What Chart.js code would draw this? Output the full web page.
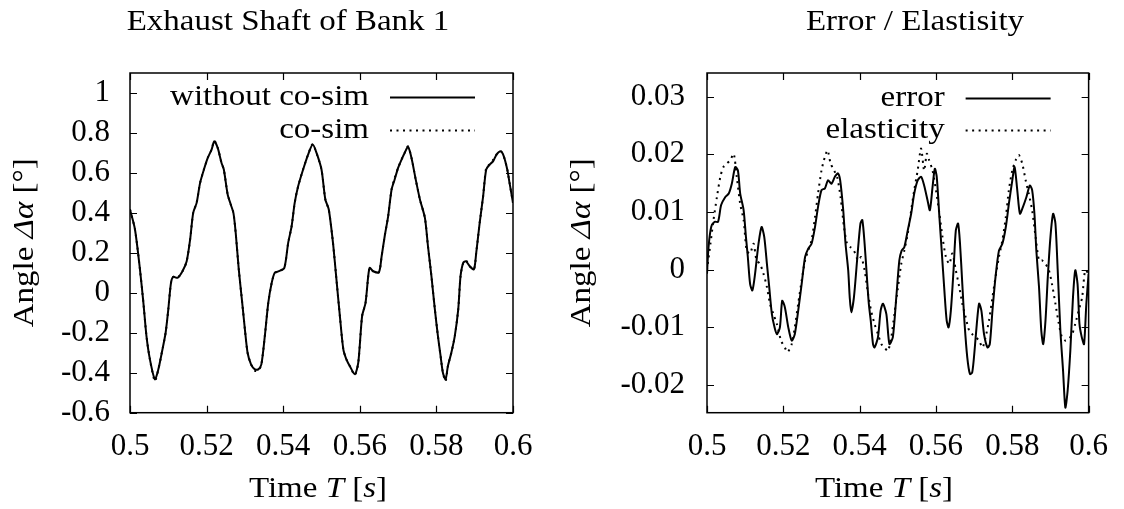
<!DOCTYPE html>
<html>
<head>
<meta charset="utf-8">
<script src="https://cdn.jsdelivr.net/npm/chart.js@4.4.0/dist/chart.umd.min.js"></script>
<style>
  html, body { margin: 0; padding: 0; background: #fff; }
  #wrap { position: relative; width: 1124px; height: 509px; overflow: hidden; }
  .cv { position: absolute; top: 0; width: 562px; height: 509px; }
</style>
</head>
<body>
<div id="wrap">
  <div class="cv" style="left:0"><canvas id="left"></canvas></div>
  <div class="cv" style="left:562px"><canvas id="right"></canvas></div>
</div>
<script>
// ---------- tick labels ----------
const xTickValues = [0.5, 0.52, 0.54, 0.56, 0.58, 0.6];
const xTickLabels = ['0.5', '0.52', '0.54', '0.56', '0.58', '0.6'];
const leftYTickValues = [-0.6, -0.4, -0.2, 0, 0.2, 0.4, 0.6, 0.8, 1];
const leftYTickLabels = ['-0.6', '-0.4', '-0.2', '0', '0.2', '0.4', '0.6', '0.8', '1'];
const rightYTickValues = [-0.02, -0.01, 0, 0.01, 0.02, 0.03];
const rightYTickLabels = ['-0.02', '-0.01', '0', '0.01', '0.02', '0.03'];

// ---------- left chart: Exhaust Shaft of Bank 1 ----------
const timeWithout = [0.5,0.5013,0.5026,0.5035,0.5043,0.5052,0.5065,0.5074,0.5083,0.5093,0.51,0.5107,0.5113,0.5124,0.5137,0.5148,0.5157,0.5165,0.5174,0.5183,0.5193,0.5203,0.5213,0.522,0.5229,0.5239,0.5245,0.5255,0.5263,0.527,0.5276,0.5284,0.5293,0.53,0.5307,0.5316,0.5326,0.5335,0.5343,0.5352,0.5361,0.537,0.5378,0.5389,0.5403,0.5413,0.5422,0.543,0.5439,0.5452,0.5465,0.5477,0.5487,0.55,0.551,0.5519,0.553,0.5539,0.5548,0.5557,0.5565,0.5574,0.5587,0.5596,0.5606,0.5615,0.5622,0.5626,0.5635,0.565,0.5657,0.5665,0.5674,0.5683,0.5691,0.57,0.5709,0.5717,0.5726,0.5735,0.5746,0.5757,0.577,0.5778,0.5787,0.5796,0.5804,0.5811,0.5817,0.5824,0.583,0.5839,0.5848,0.5857,0.5863,0.587,0.5877,0.5887,0.5898,0.5904,0.5913,0.5922,0.593,0.5939,0.5948,0.5957,0.5968,0.5976,0.5985,0.5991,0.6];
const angleWithout = [0.417,0.317,0.117,-0.05,-0.217,-0.333,-0.433,-0.383,-0.3,-0.2,-0.083,0.05,0.08,0.075,0.108,0.158,0.267,0.4,0.45,0.55,0.617,0.675,0.717,0.758,0.725,0.65,0.617,0.492,0.442,0.4,0.3,0.117,-0.05,-0.183,-0.3,-0.358,-0.383,-0.383,-0.358,-0.217,-0.05,0.05,0.1,0.108,0.125,0.25,0.333,0.45,0.533,0.617,0.692,0.742,0.7,0.617,0.467,0.417,0.25,0.067,-0.117,-0.283,-0.333,-0.367,-0.408,-0.35,-0.117,-0.05,0.083,0.125,0.108,0.103,0.183,0.283,0.383,0.517,0.567,0.625,0.667,0.7,0.73,0.675,0.567,0.467,0.375,0.233,0.083,-0.083,-0.217,-0.317,-0.4,-0.433,-0.367,-0.3,-0.217,-0.083,0.083,0.15,0.158,0.133,0.117,0.2,0.35,0.483,0.617,0.642,0.658,0.692,0.708,0.683,0.617,0.55,0.45];
const timeCosim = [0.5,0.5013,0.5026,0.5035,0.5043,0.5052,0.5065,0.5074,0.5083,0.5093,0.51,0.5107,0.5113,0.5124,0.5137,0.5148,0.5157,0.5165,0.5174,0.5183,0.5193,0.5203,0.5213,0.522,0.5229,0.5239,0.5245,0.5255,0.5263,0.527,0.5276,0.5284,0.5293,0.53,0.5307,0.5316,0.5326,0.5335,0.5343,0.5352,0.5361,0.537,0.5378,0.5389,0.5403,0.5413,0.5422,0.543,0.5439,0.5452,0.5465,0.5477,0.5487,0.55,0.551,0.5519,0.553,0.5539,0.5548,0.5557,0.5565,0.5574,0.5587,0.5596,0.5606,0.5615,0.5622,0.5626,0.5635,0.565,0.5657,0.5665,0.5674,0.5683,0.5691,0.57,0.5709,0.5717,0.5726,0.5735,0.5746,0.5757,0.577,0.5778,0.5787,0.5796,0.5804,0.5811,0.5817,0.5824,0.583,0.5839,0.5848,0.5857,0.5863,0.587,0.5877,0.5887,0.5898,0.5904,0.5913,0.5922,0.593,0.5939,0.5948,0.5957,0.5968,0.5976,0.5985,0.5991,0.6];
const angleCosim = [0.417,0.317,0.117,-0.05,-0.217,-0.333,-0.442,-0.383,-0.3,-0.2,-0.083,0.05,0.08,0.075,0.108,0.158,0.267,0.4,0.45,0.55,0.617,0.675,0.717,0.762,0.725,0.65,0.617,0.492,0.442,0.4,0.3,0.117,-0.05,-0.183,-0.3,-0.358,-0.39,-0.39,-0.358,-0.217,-0.05,0.05,0.1,0.108,0.125,0.25,0.333,0.45,0.533,0.617,0.692,0.745,0.7,0.617,0.467,0.417,0.25,0.067,-0.117,-0.283,-0.333,-0.367,-0.412,-0.35,-0.117,-0.05,0.083,0.125,0.108,0.103,0.183,0.283,0.383,0.517,0.575,0.625,0.667,0.7,0.733,0.675,0.567,0.467,0.375,0.233,0.083,-0.083,-0.217,-0.317,-0.4,-0.442,-0.367,-0.3,-0.217,-0.083,0.083,0.15,0.162,0.133,0.117,0.2,0.35,0.483,0.625,0.642,0.665,0.692,0.708,0.683,0.617,0.55,0.45];

// ---------- right chart: Error / Elastisity ----------
const timeError = [0.5,0.5004,0.5011,0.502,0.5029,0.5037,0.5048,0.5057,0.5065,0.5074,0.5081,0.5087,0.5096,0.5102,0.5107,0.5113,0.5119,0.5126,0.5135,0.5143,0.515,0.5157,0.5163,0.517,0.5177,0.5183,0.5191,0.5197,0.5204,0.5213,0.5222,0.523,0.5239,0.5248,0.5257,0.5265,0.5274,0.5283,0.5291,0.53,0.5309,0.5317,0.5326,0.5335,0.5343,0.5349,0.5357,0.5363,0.537,0.5374,0.5378,0.5385,0.5394,0.5402,0.5407,0.5413,0.5419,0.5424,0.5429,0.5435,0.5439,0.5448,0.5455,0.5461,0.547,0.5478,0.5487,0.5496,0.5504,0.551,0.5517,0.5526,0.5535,0.5543,0.5552,0.5561,0.5569,0.5578,0.5584,0.5591,0.5597,0.5602,0.5609,0.5615,0.5622,0.5628,0.5633,0.5639,0.5646,0.5652,0.5658,0.5663,0.5669,0.5675,0.5682,0.5689,0.5695,0.5701,0.5707,0.5713,0.5719,0.5726,0.5735,0.5741,0.5748,0.5756,0.5765,0.5774,0.5783,0.5791,0.58,0.5806,0.5813,0.582,0.5828,0.5837,0.5846,0.5852,0.5858,0.5863,0.587,0.5876,0.5881,0.5887,0.5893,0.59,0.5907,0.5913,0.5919,0.5926,0.5933,0.5939,0.5945,0.5952,0.5959,0.5965,0.5971,0.5976,0.5982,0.5988,0.5994,0.6];
const valError = [-0.0007,0.0039,0.0074,0.0083,0.0083,0.0112,0.0126,0.0132,0.0149,0.0178,0.0172,0.0132,0.0103,0.0057,0.0022,-0.0025,-0.0036,-0.0007,0.0045,0.0074,0.0057,0.001,-0.003,-0.0077,-0.01,-0.0112,-0.01,-0.0054,-0.0065,-0.01,-0.0123,-0.0112,-0.0071,-0.0025,0.0022,0.0036,0.0045,0.0074,0.0109,0.0138,0.0141,0.0155,0.0149,0.0161,0.0167,0.0155,0.0103,0.0045,-0.0001,-0.0048,-0.0074,-0.0048,0.0022,0.008,0.0086,0.0045,-0.0013,-0.0059,-0.0088,-0.0129,-0.0135,-0.0117,-0.0071,-0.0059,-0.0077,-0.0129,-0.0117,-0.0048,0.0016,0.0033,0.0039,0.0068,0.0097,0.0132,0.0155,0.0161,0.0146,0.012,0.0103,0.0143,0.0175,0.0161,0.0091,0.0033,-0.0036,-0.0088,-0.01,-0.0071,-0.0001,0.0068,0.008,0.0045,-0.0025,-0.0094,-0.0152,-0.0181,-0.0178,-0.0141,-0.0094,-0.0059,-0.0071,-0.0112,-0.0135,-0.0129,-0.0071,-0.0013,0.0033,0.0045,0.0074,0.0114,0.0155,0.0178,0.0138,0.0097,0.0109,0.0126,0.0146,0.0138,0.0097,0.0033,-0.003,-0.0106,-0.0129,-0.0088,-0.0013,0.0057,0.0097,0.008,-0.0001,-0.0106,-0.0175,-0.0239,-0.021,-0.0141,-0.0048,-0.0001,-0.0025,-0.0094,-0.0117,-0.0129,-0.0059,-0.0007];
const timeElast = [0.5,0.5009,0.5017,0.5026,0.5035,0.5043,0.5052,0.5061,0.507,0.5078,0.5087,0.5096,0.5104,0.5113,0.5122,0.513,0.5139,0.5148,0.5157,0.5165,0.5174,0.5183,0.5194,0.5204,0.5211,0.5222,0.523,0.5239,0.5248,0.5257,0.5265,0.5274,0.5283,0.5291,0.53,0.5309,0.5316,0.5324,0.5333,0.5341,0.535,0.5359,0.5367,0.5376,0.5385,0.5396,0.5404,0.5413,0.5422,0.543,0.5439,0.5448,0.5457,0.5465,0.5474,0.5483,0.5491,0.55,0.5509,0.5517,0.5526,0.5535,0.5543,0.5552,0.5561,0.5569,0.5576,0.5582,0.5591,0.56,0.5609,0.5617,0.5626,0.5635,0.5643,0.5652,0.5661,0.5669,0.5678,0.5687,0.5695,0.5704,0.5713,0.5722,0.573,0.5739,0.5748,0.5756,0.5765,0.5774,0.5783,0.5791,0.58,0.5809,0.5817,0.5826,0.5835,0.5843,0.5852,0.5861,0.587,0.5878,0.5887,0.5896,0.5904,0.5913,0.5922,0.593,0.5939,0.5948,0.5957,0.5965,0.5974,0.5983,0.5991,0.6];
const valElast = [-0.0001,0.0045,0.0086,0.0126,0.0161,0.0178,0.0184,0.019,0.0201,0.0161,0.0114,0.0086,0.0033,0.0028,0.0045,0.0016,0.001,-0.0007,-0.003,-0.0059,-0.0077,-0.0094,-0.0123,-0.0135,-0.0143,-0.0129,-0.01,-0.0059,-0.0019,0.0016,0.0033,0.0051,0.0091,0.0132,0.0172,0.0196,0.0207,0.0184,0.0172,0.0161,0.0126,0.0074,0.0045,0.0039,0.0033,0.0016,0.0022,-0.0001,-0.0042,-0.0071,-0.0094,-0.0112,-0.0129,-0.0135,-0.0141,-0.0117,-0.0077,-0.0033,0.001,0.0033,0.0062,0.0103,0.0138,0.0172,0.021,0.0172,0.0201,0.019,0.0172,0.0138,0.0097,0.0057,0.0022,0.001,0.0028,-0.0001,-0.003,-0.0059,-0.0083,-0.0106,-0.0112,-0.0117,-0.0123,-0.0135,-0.0117,-0.0088,-0.0048,-0.0013,0.0022,0.0051,0.0091,0.0138,0.0172,0.019,0.0199,0.0184,0.0155,0.0132,0.0103,0.0057,0.0016,0.0016,0.001,-0.0001,-0.0025,-0.0059,-0.0094,-0.0117,-0.0123,-0.012,-0.0112,-0.0094,-0.0071,-0.0048,-0.0001,-0.0007];

const FONT = "'Liberation Serif', 'Times New Roman', serif";
const FS = 30;     // text size for titles, labels, legend
const TFS = 31;    // tick label size
const STRETCH = 1.1; // Computer Modern is wider than Times
const DOTS = [2, 4.5];

function pts(xs, ys) { return xs.map((x, i) => ({ x: x, y: ys[i] })); }

// Rich text: parts [{t, i}] drawn left to right, alignment by total width
function drawRich(ctx, parts, x, y, align) {
  let total = 0;
  parts.forEach(p => { ctx.font = (p.i ? 'italic ' : '') + FS + 'px ' + FONT; total += ctx.measureText(p.t).width; });
  const w = total * STRETCH;
  let start = align === 'center' ? x - w / 2 : (align === 'right' ? x - w : x);
  ctx.save();
  ctx.translate(start, y);
  ctx.scale(STRETCH, 1);
  ctx.textAlign = 'left';
  ctx.textBaseline = 'middle';
  let cx = 0;
  parts.forEach(p => {
    ctx.font = (p.i ? 'italic ' : '') + FS + 'px ' + FONT;
    ctx.fillText(p.t, cx, 0);
    cx += ctx.measureText(p.t).width;
  });
  ctx.restore();
}

const decorPlugin = {
  id: 'gpDecor',
  afterDraw(chart, args, opts) {
    const ctx = chart.ctx;
    const a = chart.chartArea;
    const xs = chart.scales.x, ys = chart.scales.y;
    ctx.save();
    ctx.strokeStyle = '#000';
    ctx.fillStyle = '#000';
    // frame
    ctx.lineWidth = 1.5;
    ctx.setLineDash([]);
    ctx.strokeRect(a.left, a.top, a.right - a.left, a.bottom - a.top);
    // inward ticks on all sides (mirrored)
    const TL = 7;
    ctx.lineWidth = 1.2;
    ctx.beginPath();
    xs.ticks.forEach(t => {
      const px = Math.round(xs.getPixelForValue(t.value)) + 0.5;
      ctx.moveTo(px, a.bottom); ctx.lineTo(px, a.bottom - TL);
      ctx.moveTo(px, a.top); ctx.lineTo(px, a.top + TL);
    });
    ys.ticks.forEach(t => {
      const py = Math.round(ys.getPixelForValue(t.value)) + 0.5;
      ctx.moveTo(a.left, py); ctx.lineTo(a.left + TL, py);
      ctx.moveTo(a.right, py); ctx.lineTo(a.right - TL, py);
    });
    ctx.stroke();
    // title
    drawRich(ctx, [{ t: opts.title }], opts.titleX, opts.titleY, 'center');
    // x label
    drawRich(ctx, [{ t: 'Time ' }, { t: 'T', i: true }, { t: ' [' }, { t: 's', i: true }, { t: ']' }], opts.xlabelX, opts.xlabelY, 'center');
    // y label (rotated)
    ctx.save();
    ctx.translate(opts.ylabelX, (a.top + a.bottom) / 2);
    ctx.rotate(-Math.PI / 2);
    drawRich(ctx, [{ t: 'Angle ' }, { t: '\u0394\u03b1', i: true }, { t: ' [\u00b0]' }], 0, 0, 'center');
    ctx.restore();
    // legend (gnuplot style: right-aligned text, sample to the right)
    const sampleRight = a.right - 38, sampleLen = 85;
    chart.data.datasets.forEach((ds, i) => {
      const y = opts.legendY0 + i * opts.legendDY;
      drawRich(ctx, [{ t: ds.label }], sampleRight - sampleLen - 21, y, 'right');
      ctx.beginPath();
      ctx.lineWidth = ds.borderWidth;
      ctx.setLineDash(ds.borderDash || []);
      ctx.moveTo(sampleRight - sampleLen, Math.round(y) + 0.5);
      ctx.lineTo(sampleRight, Math.round(y) + 0.5);
      ctx.stroke();
    });
    ctx.restore();
  }
};

function makeChart(id, cfg) {
  const c = document.getElementById(id);
  return new Chart(c, {
    type: 'line',
    data: {
      datasets: cfg.datasets.map(d => ({
        label: d.label,
        data: d.data,
        borderColor: '#000',
        backgroundColor: '#000',
        borderWidth: 2,
        borderDash: d.dash || [],
        pointRadius: 0,
        tension: 0.25,
        fill: false
      }))
    },
    options: {
      responsive: true,
      maintainAspectRatio: false,
      animation: false,
      events: [],
      layout: { padding: { top: 73, right: cfg.padRight, left: 0, bottom: 0 } },
      plugins: {
        legend: { display: false },
        tooltip: { enabled: false },
        title: { display: false },
        gpDecor: cfg.decor
      },
      scales: {
        x: {
          type: 'linear',
          min: 0.5, max: 0.6,
          afterBuildTicks: s => { s.ticks = xTickValues.map(v => ({ value: v })); },
          afterFit: s => { s.height = 96.3; },
          ticks: {
            autoSkip: false, maxRotation: 0, minRotation: 0,
            padding: 16, color: '#000',
            font: { family: FONT, size: TFS },
            callback: (v, i) => xTickLabels[i]
          },
          grid: { display: false, drawTicks: false },
          border: { display: false }
        },
        y: {
          type: 'linear',
          min: cfg.yMin, max: cfg.yMax,
          afterBuildTicks: s => { s.ticks = cfg.yTicks.map(v => ({ value: v })); },
          afterFit: s => { s.width = cfg.yWidth; },
          ticks: {
            autoSkip: false, padding: cfg.yPad, color: '#000',
            font: { family: FONT, size: TFS },
            callback: (v, i) => cfg.yLabels[i]
          },
          grid: { display: false, drawTicks: false },
          border: { display: false }
        }
      }
    },
    plugins: [decorPlugin]
  });
}

makeChart('left', {
  datasets: [
    { label: 'without co-sim', data: pts(timeWithout, angleWithout) },
    { label: 'co-sim', data: pts(timeCosim, angleCosim), dash: DOTS }
  ],
  yMin: -0.6, yMax: 1.1,
  yTicks: leftYTickValues, yLabels: leftYTickLabels,
  yWidth: 130, yPad: 20, padRight: 49,
  decor: { title: 'Exhaust Shaft of Bank 1', titleX: 288, titleY: 22, xlabelX: 318, xlabelY: 489, ylabelX: 25, legendY0: 97, legendDY: 33 }
});

makeChart('right', {
  datasets: [
    { label: 'error', data: pts(timeError, valError) },
    { label: 'elasticity', data: pts(timeElast, valElast), dash: DOTS }
  ],
  yMin: -0.0248, yMax: 0.0341,
  yTicks: rightYTickValues, yLabels: rightYTickLabels,
  yWidth: 145, yPad: 22, padRight: 34,
  decor: { title: 'Error / Elastisity', titleX: 353, titleY: 22, xlabelX: 322, xlabelY: 489, ylabelX: 20, legendY0: 98, legendDY: 32 }
});
</script>
</body>
</html>
